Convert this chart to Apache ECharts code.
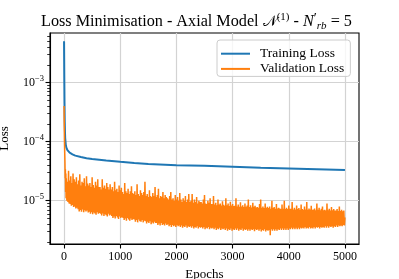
<!DOCTYPE html>
<html><head><meta charset="utf-8">
<script src="https://cdn.jsdelivr.net/npm/echarts@6/dist/echarts.min.js"></script>
<style>html,body{margin:0;padding:0;background:#fff}#c{width:399px;height:279px}</style>
</head><body><div id="c"></div>
<script>
const trainEpochs = [0, 2, 5, 8, 12, 16, 20, 30, 40, 60, 80, 100, 150, 200, 300, 400, 500, 750, 1000, 1250, 1500, 2000, 2500, 3000, 3500, 4000, 4500, 5000];
const trainLoss = [5.0e-3, 2.5e-3, 1.0e-3, 4.5e-4, 2.2e-4, 1.5e-4, 1.15e-4, 9e-5, 8e-5, 7.2e-5, 6.8e-5, 6.5e-5, 6.1e-5, 5.8e-5, 5.5e-5, 5.25e-5, 5.1e-5, 4.8e-5, 4.55e-5, 4.35e-5, 4.2e-5, 4.0e-5, 3.9e-5, 3.75e-5, 3.6e-5, 3.5e-5, 3.4e-5, 3.3e-5];

const valEarlyEpochs = [0, 4, 8, 12, 16, 20, 24, 28, 32, 36];
const valEarlyLoss = [4.0e-4, 1.9e-4, 1.0e-4, 6.5e-5, 4.5e-5, 2.4e-5, 3.4e-5, 1.4e-5, 2.9e-5, 1.1e-5];
const valStart = 40;
const valStep = 10;
const valLoss = [
  24e-6, 10e-6, 21e-6, 9.5e-6, 32e-6, 9e-6, 22e-6, 8.8e-6, 26e-6, 8.2e-6, 20e-6, 8.5e-6, 29e-6, 7.8e-6, 23e-6, 8e-6, 21e-6, 7.4e-6, 25e-6, 7.6e-6,
  19e-6, 7.2e-6, 22e-6, 6.6e-6, 28e-6, 7e-6, 18e-6, 6.5e-6, 21e-6, 7.1e-6, 20e-6, 6.4e-6, 24e-6, 6.9e-6, 17.5e-6, 6.6e-6, 26e-6, 6.8e-6, 19.5e-6, 6.3e-6,
  18e-6, 6.5e-6, 20e-6, 6e-6, 17e-6, 6.4e-6, 25e-6, 5.9e-6, 18.5e-6, 6.3e-6, 16.5e-6, 6.1e-6, 21e-6, 5.8e-6, 18e-6, 6.4e-6, 23e-6, 6e-6, 17e-6, 6.2e-6,
  17e-6, 6e-6, 15.5e-6, 5.6e-6, 23e-6, 6.1e-6, 16.5e-6, 5.5e-6, 18e-6, 5.9e-6, 16e-6, 5.7e-6, 20e-6, 5.4e-6, 17e-6, 6e-6, 15.5e-6, 5.6e-6, 19e-6, 5.8e-6,
  15.5e-6, 5.5e-6, 17e-6, 5.1e-6, 14.5e-6, 5.4e-6, 21e-6, 5e-6, 15e-6, 5.5e-6, 16e-6, 5.2e-6, 14e-6, 4.9e-6, 18e-6, 5.4e-6, 15e-6, 5.1e-6, 16.5e-6, 5.3e-6,
  14e-6, 5.1e-6, 13e-6, 4.7e-6, 20e-6, 5e-6, 14.5e-6, 4.6e-6, 13.5e-6, 5.1e-6, 16e-6, 4.8e-6, 13e-6, 4.6e-6, 14.5e-6, 5e-6, 17.5e-6, 4.7e-6, 13.5e-6, 4.9e-6,
  13e-6, 4.8e-6, 14.5e-6, 4.4e-6, 12.5e-6, 4.7e-6, 19e-6, 4.3e-6, 13e-6, 4.8e-6, 12e-6, 4.5e-6, 15e-6, 4.4e-6, 13.5e-6, 4.7e-6, 12.5e-6, 4.3e-6, 14e-6, 4.6e-6,
  21e-6, 4.5e-6, 12e-6, 4.1e-6, 13e-6, 4.4e-6, 11.5e-6, 4.2e-6, 15e-6, 4.5e-6, 12e-6, 4e-6, 11.5e-6, 4.3e-6, 13.5e-6, 4.1e-6, 12e-6, 4.4e-6, 17e-6, 4.2e-6,
  11.5e-6, 4.2e-6, 12.5e-6, 3.9e-6, 16e-6, 4.1e-6, 11e-6, 3.8e-6, 12e-6, 4.2e-6, 11.5e-6, 3.9e-6, 14e-6, 4e-6, 11e-6, 3.8e-6, 12.5e-6, 4.1e-6, 11.5e-6, 3.9e-6,
  11e-6, 4e-6, 10.5e-6, 3.7e-6, 12e-6, 3.9e-6, 14e-6, 3.6e-6, 10.5e-6, 3.9e-6, 11e-6, 3.7e-6, 10e-6, 3.8e-6, 12.5e-6, 3.6e-6, 10.5e-6, 3.9e-6, 11.5e-6, 3.7e-6,
  10e-6, 3.8e-6, 13.5e-6, 3.6e-6, 10.5e-6, 3.8e-6, 9.5e-6, 3.5e-6, 11e-6, 3.7e-6, 10e-6, 3.6e-6, 12e-6, 3.8e-6, 9.5e-6, 3.5e-6, 10.5e-6, 3.7e-6, 13e-6, 3.6e-6,
  9.5e-6, 3.7e-6, 10e-6, 3.5e-6, 13e-6, 3.7e-6, 9.2e-6, 3.4e-6, 10.5e-6, 3.6e-6, 9.5e-6, 3.5e-6, 11.5e-6, 3.7e-6, 9e-6, 3.4e-6, 10e-6, 3.6e-6, 9.5e-6, 3.5e-6,
  9.5e-6, 3.6e-6, 9e-6, 3.4e-6, 10.5e-6, 3.6e-6, 12.5e-6, 3.3e-6, 9e-6, 3.5e-6, 8.8e-6, 3.4e-6, 10e-6, 3.6e-6, 9.2e-6, 3.3e-6, 11e-6, 3.5e-6, 8.8e-6, 3.4e-6,
  8.8e-6, 3.5e-6, 12e-6, 3.3e-6, 8.6e-6, 3.5e-6, 9.2e-6, 3.2e-6, 8.4e-6, 3.4e-6, 10.5e-6, 3.3e-6, 8.6e-6, 3.5e-6, 9e-6, 3.2e-6, 8.3e-6, 3.4e-6, 9.8e-6, 3.3e-6,
  8.5e-6, 3.4e-6, 8.2e-6, 3.2e-6, 11e-6, 3.4e-6, 8.4e-6, 3.1e-6, 9e-6, 3.3e-6, 8.1e-6, 3.2e-6, 9.6e-6, 3.4e-6, 8.3e-6, 3.1e-6, 8.8e-6, 3.3e-6, 8.1e-6, 3.2e-6,
  8.2e-6, 3.4e-6, 11e-6, 3.2e-6, 8e-6, 3.4e-6, 8.6e-6, 3.1e-6, 7.9e-6, 3.3e-6, 9.4e-6, 3.2e-6, 8e-6, 3.4e-6, 8.4e-6, 3.1e-6, 7.8e-6, 3.3e-6, 9e-6, 3.2e-6,
  7.9e-6, 3.3e-6, 8.3e-6, 3.1e-6, 10.5e-6, 3.3e-6, 7.8e-6, 3.1e-6, 8.4e-6, 3.3e-6, 7.7e-6, 3.2e-6, 9.2e-6, 3.3e-6, 7.9e-6, 3.05e-6, 8.2e-6, 3.3e-6, 7.7e-6, 3.2e-6,
  7.8e-6, 3.3e-6, 7.6e-6, 3.1e-6, 8.8e-6, 3.3e-6, 10.5e-6, 3e-6, 7.6e-6, 3.2e-6, 8e-6, 3.1e-6, 7.5e-6, 3.3e-6, 9e-6, 3e-6, 7.6e-6, 3.2e-6, 7.9e-6, 3.1e-6,
  7.5e-6, 3.2e-6, 8e-6, 2.6e-6, 7.3e-6, 3.3e-6, 10e-6, 3.1e-6, 7.5e-6, 3.3e-6, 7.8e-6, 3.1e-6, 7.3e-6, 3.3e-6, 8.8e-6, 3.1e-6, 7.4e-6, 3.3e-6, 7.6e-6, 3.2e-6,
  7.4e-6, 3.4e-6, 7.2e-6, 3.2e-6, 8.6e-6, 3.4e-6, 7.3e-6, 3.2e-6, 10e-6, 3.4e-6, 7.2e-6, 3.2e-6, 7.6e-6, 3.4e-6, 7.2e-6, 3.2e-6, 8.3e-6, 3.4e-6, 7.3e-6, 3.3e-6,
  7.3e-6, 3.5e-6, 9.5e-6, 3.3e-6, 7.1e-6, 3.5e-6, 7.6e-6, 3.3e-6, 7.1e-6, 3.5e-6, 8.3e-6, 3.3e-6, 7.2e-6, 3.5e-6, 7.5e-6, 3.3e-6, 7e-6, 3.5e-6, 8.6e-6, 3.4e-6,
  7.2e-6, 3.5e-6, 7e-6, 3.4e-6, 8e-6, 3.6e-6, 7.1e-6, 3.4e-6, 9.5e-6, 3.5e-6, 7e-6, 3.4e-6, 7.4e-6, 3.6e-6, 7.1e-6, 3.4e-6, 8.2e-6, 3.5e-6, 7e-6, 3.4e-6,
  7.1e-6, 3.6e-6, 7.4e-6, 3.4e-6, 6.9e-6, 3.6e-6, 9e-6, 3.5e-6, 7e-6, 3.6e-6, 7.6e-6, 3.4e-6, 6.9e-6, 3.6e-6, 7.3e-6, 3.5e-6, 8e-6, 3.6e-6, 6.9e-6, 3.5e-6,
  7e-6, 3.7e-6, 6.8e-6, 3.5e-6, 9e-6, 3.7e-6, 6.9e-6, 3.5e-6, 7.3e-6, 3.7e-6, 6.8e-6, 3.6e-6, 7.8e-6, 3.7e-6, 6.9e-6, 3.5e-6, 7.2e-6, 3.7e-6, 6.8e-6, 3.6e-6,
  6.8e-6, 3.8e-6, 7.2e-6, 3.6e-6, 6.7e-6, 3.8e-6, 8e-6, 3.7e-6, 6.7e-6, 3.8e-6, 7e-6, 3.7e-6, 6.6e-6, 3.9e-6, 6.8e-6, 3.8e-6, 5.2e-6
];

const xTicks = [0, 1000, 2000, 3000, 4000, 5000];
const yTicks = [1e-5, 1e-4, 1e-3];
const yMinorTicks = [2e-6, 3e-6, 4e-6, 5e-6, 6e-6, 7e-6, 8e-6, 9e-6,
  2e-5, 3e-5, 4e-5, 5e-5, 6e-5, 7e-5, 8e-5, 9e-5,
  2e-4, 3e-4, 4e-4, 5e-4, 6e-4, 7e-4, 8e-4, 9e-4,
  2e-3, 3e-3, 4e-3, 5e-3, 6e-3];

const SERIF = '"Liberation Serif", "DejaVu Serif", serif';

const trainData = trainEpochs.map((e, i) => [e, trainLoss[i]]);
const valData = valEarlyEpochs.map((e, i) => [e, valEarlyLoss[i]])
  .concat(valLoss.map((v, i) => [valStart + i * valStep, v]));

const chart = echarts.init(document.getElementById('c'), null, {renderer: 'canvas'});
const axisLineStyle = {color: '#000', width: 1.1};
const base = {fontFamily: SERIF, fontWeight: 'normal', color: '#000'};
chart.setOption({
  animation: false,
  backgroundColor: '#fff',
  title: {
    text: '{a|Loss Minimisation - Axial Model }{c|𝒩}{s|(1)}{a| - }{i|N}{p|′}{b|rb}{a| = 5}',
    left: 41, top: 12, padding: 0,
    textStyle: {
      fontWeight: 'normal',
      rich: {
        a: Object.assign({}, base, {fontSize: 16.2, lineHeight: 20}),
        c: Object.assign({}, base, {fontFamily: '"DejaVu Serif", "DejaVu Sans", serif', fontSize: 15, lineHeight: 20}),
        i: Object.assign({}, base, {fontStyle: 'italic', fontSize: 16.2, lineHeight: 20}),
        s: Object.assign({}, base, {fontSize: 11, lineHeight: 11, verticalAlign: 'top'}),
        p: Object.assign({}, base, {fontSize: 14, lineHeight: 14, verticalAlign: 'top'}),
        b: Object.assign({}, base, {fontStyle: 'italic', fontSize: 11, lineHeight: 11, verticalAlign: 'bottom'})
      }
    }
  },
  legend: {
    orient: 'vertical', left: 217, top: 40,
    padding: [6.7, 6, 0.5, 4], itemGap: 1.2, itemWidth: 29, itemHeight: 2, icon: 'rect',
    backgroundColor: 'rgba(255,255,255,0.8)', borderColor: '#cccccc', borderWidth: 1, borderRadius: 3,
    textStyle: {fontFamily: SERIF, fontSize: 13.5, lineHeight: 14, color: '#000', padding: [0, 0, 0, 5]},
    data: ['Training Loss', 'Validation Loss']
  },
  grid: {left: 50, right: 40, top: 33, bottom: 35, show: true, borderColor: '#000', borderWidth: 1.1,
    containLabel: false, outerBoundsMode: 'none'},
  xAxis: {
    type: 'value', min: -250, max: 5250,
    axisLine: {show: true, onZero: false, lineStyle: axisLineStyle},
    axisTick: {show: true, customValues: xTicks, length: 4.5, lineStyle: axisLineStyle},
    axisLabel: {customValues: xTicks, margin: 7, fontFamily: SERIF, fontSize: 12, color: '#000',
      formatter: v => String(v)},
    splitLine: {show: true, lineStyle: {color: '#d3d3d3', width: 1.2}},
    name: 'Epochs', nameLocation: 'middle', nameGap: 21,
    nameTextStyle: {fontFamily: SERIF, fontSize: 13, color: '#000'}
  },
  yAxis: [{
    type: 'log', logBase: 10, min: 1.85e-6, max: 6.9e-3,
    axisLine: {show: true, onZero: false, lineStyle: axisLineStyle},
    axisTick: {show: true, customValues: yTicks, length: 4.5, lineStyle: axisLineStyle},
    axisLabel: {
      customValues: yTicks, margin: 6,
      formatter: v => '{b|10}{s|−' + Math.abs(Math.round(Math.log10(v))) + '}',
      rich: {
        b: Object.assign({}, base, {fontSize: 12, lineHeight: 16}),
        s: Object.assign({}, base, {fontSize: 8.5, lineHeight: 9, verticalAlign: 'top'})
      }
    },
    splitLine: {show: true, lineStyle: {color: '#d3d3d3', width: 1.2}},
    name: 'Loss', nameLocation: 'middle', nameGap: 39, nameRotate: 90,
    nameTextStyle: {fontFamily: SERIF, fontSize: 13, color: '#000'}
  }, {
    type: 'log', logBase: 10, min: 1.85e-6, max: 6.9e-3, position: 'left',
    axisLine: {show: false, onZero: false},
    axisTick: {show: true, customValues: yMinorTicks, length: 2.8, lineStyle: {color: '#000', width: 0.8}},
    axisLabel: {show: false},
    splitLine: {show: false}
  }],
  series: [{
    type: 'line', name: 'Training Loss', data: trainData, yAxisIndex: 0,
    symbol: 'none', showSymbol: false,
    lineStyle: {color: '#1f77b4', width: 2}, itemStyle: {color: '#1f77b4'}
  }, {
    type: 'line', name: 'Validation Loss', data: valData, yAxisIndex: 0,
    symbol: 'none', showSymbol: false,
    lineStyle: {color: '#ff7f0e', width: 1.5}, itemStyle: {color: '#ff7f0e'}
  }]
});
</script></body></html>
